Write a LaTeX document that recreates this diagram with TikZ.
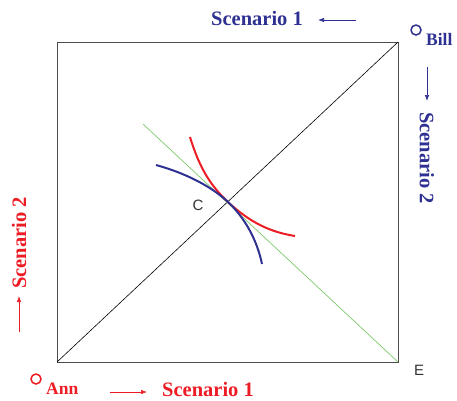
\documentclass[tikz,border=0pt]{standalone}
\usepackage{fontspec}
\setmainfont{Liberation Serif}
\newfontfamily\labelsans{Liberation Sans}
\usetikzlibrary{arrows.meta}
\definecolor{annred}{RGB}{237,28,36}
\definecolor{billblue}{RGB}{46,49,146}
\definecolor{contract}{RGB}{125,200,105}

\begin{document}
\begin{tikzpicture}[x=1pt, y=-1pt, >=Latex,
    scen/.style={font=\bfseries\fontsize{20.5}{22}\selectfont, inner sep=0pt},
    origin/.style={circle, draw, line width=1.5pt, minimum size=10pt, inner sep=0pt},
    who/.style={font=\bfseries\fontsize{17.5}{19}\selectfont, inner sep=0pt},
    pt/.style={font=\labelsans\fontsize{15}{16}\selectfont, text=black!80, inner sep=0pt},
    dir/.style={-{Latex[length=6pt,width=4.5pt]}, line width=0.7pt},
    indiff/.style={line width=2pt}]
    \useasboundingbox (0,0) rectangle (457,400);

    % edgeworth box
    \coordinate (SW) at (57,362);
    \coordinate (NE) at (398,42);
    \draw[black!70, line width=1pt] (SW) rectangle (NE);
    \draw[black, line width=0.6pt] (SW) -- (NE);

    \coordinate (Ctop) at (143,124);
    \coordinate (Cbot) at (398,362);
    \draw[contract, line width=0.7pt] (Ctop) -- (Cbot);

    \coordinate (C) at (228,202);
    \draw[indiff, annred] (190,137) .. controls (200,170) and (212,187) .. (C)
        .. controls (250,222.5) and (270,232) .. (295,236);
    \draw[indiff, billblue] (156,165) .. controls (185,173) and (211,186) .. (C)
        .. controls (245,218) and (257,240) .. (262,264);

    \node[pt] (c) at (198,205) {C};
    \node[pt] (e) at (419,370) {E};

    % origins
    \node[origin, annred] (oann) at (36,379) {};
    \node[who, annred, anchor=base west] (ann) at (46,394) {Ann};
    \node[origin, billblue] (obill) at (416,30) {};
    \node[who, billblue, anchor=base west] (bill) at (426,45) {Bill};

    % scenarios
    \node[scen, annred, anchor=base] (s1ann) at (208,396) {Scenario 1};
    \coordinate (a1) at (110,392);
    \coordinate (a2) at (147,392);
    \draw[dir, annred] (a1) -- (a2);

    \node[scen, annred, rotate=90] (s2ann) at (19,243) {Scenario 2};
    \coordinate (a3) at (19,332);
    \coordinate (a4) at (19,296);
    \draw[dir, annred] (a3) -- (a4);

    \node[scen, billblue, anchor=base] (s1bill) at (257,25) {Scenario 1};
    \coordinate (b1) at (356,20);
    \coordinate (b2) at (318,20);
    \draw[dir, billblue] (b1) -- (b2);

    \node[scen, billblue, rotate=-90] (s2bill) at (427,158) {Scenario 2};
    \coordinate (b3) at (427,67);
    \coordinate (b4) at (427,101);
    \draw[dir, billblue] (b3) -- (b4);
\end{tikzpicture}
\end{document}
